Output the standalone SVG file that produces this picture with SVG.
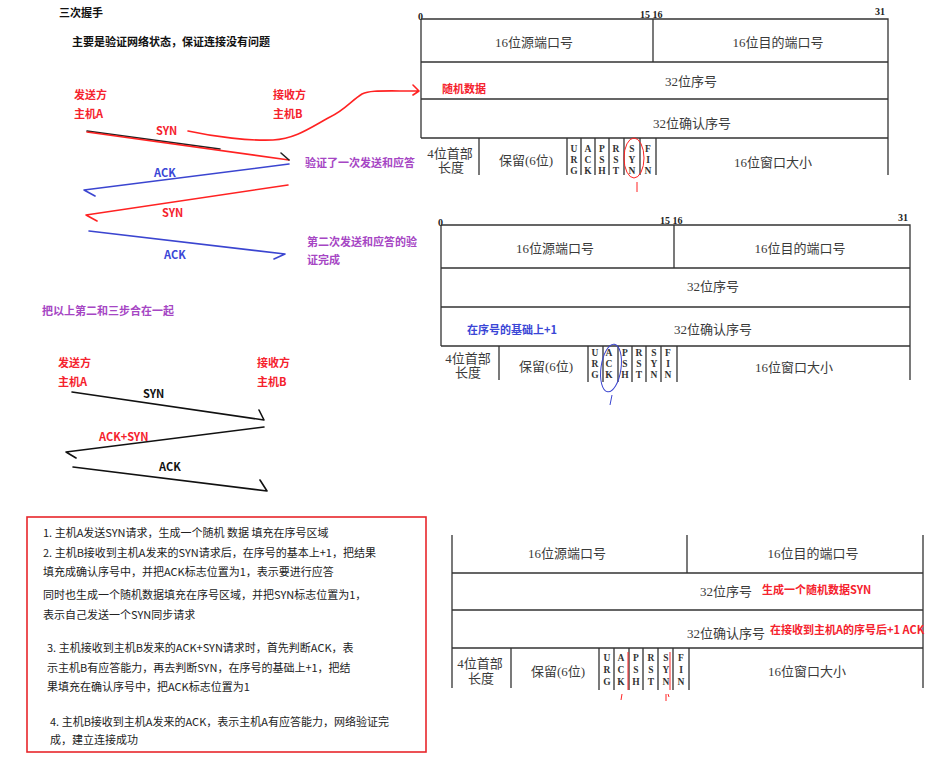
<svg xmlns="http://www.w3.org/2000/svg" width="945" height="757" viewBox="0 0 945 757">
<style>
.b{font-family:"Noto Sans CJK SC","Liberation Sans",sans-serif;font-size:11px;font-weight:bold}
.r{fill:#f5222d}.bl{fill:#3a46d6}.pu{fill:#a646c4}.k{fill:#111}
.p{font-family:"Noto Sans CJK SC","Liberation Sans",sans-serif;font-size:11px;fill:#222}
.t{font-family:"Liberation Serif","Noto Sans CJK SC",serif;font-size:13px;fill:#3a3a3a;text-anchor:middle}
.f{font-family:"Liberation Serif",serif;font-size:9.5px;fill:#333;text-anchor:middle;font-weight:bold}
.n{font-family:"Liberation Serif",serif;font-size:10px;fill:#222;font-weight:bold}
.tl{fill:none;stroke:#333;stroke-width:1.3}
.ln{fill:none;stroke-width:1.6;stroke-linecap:round;stroke-linejoin:round}
</style>
<rect width="945" height="757" fill="#fff"/>

<g id="title">
<text class="b k" x="59" y="17">三次握手</text>
<text class="b k" x="72" y="46">主要是验证网络状态，保证连接没有问题</text>
</g>

<g id="diagram1-labels">
<text class="b r" x="74" y="99">发送方</text>
<text class="b r" x="74" y="118">主机A</text>
<text class="b r" x="273" y="99">接收方</text>
<text class="b r" x="273" y="118">主机B</text>
<text class="b r" x="156" y="135">SYN</text>
<text class="b bl" x="154" y="177">ACK</text>
<text class="b r" x="162" y="217">SYN</text>
<text class="b bl" x="164" y="259">ACK</text>
<text class="b pu" x="305" y="167">验证了一次发送和应答</text>
<text class="b pu" x="307" y="246">第二次发送和应答的验</text>
<text class="b pu" x="307" y="264">证完成</text>
</g>

<g id="diagram2-labels">
<text class="b pu" x="42" y="315">把以上第二和三步合在一起</text>
<text class="b r" x="58" y="367">发送方</text>
<text class="b r" x="58" y="386">主机A</text>
<text class="b r" x="257" y="367">接收方</text>
<text class="b r" x="257" y="386">主机B</text>
<text class="b k" x="143" y="398">SYN</text>
<text class="b r" x="99" y="441">ACK+SYN</text>
<text class="b k" x="159" y="471">ACK</text>
</g>

<g id="connectors">
<path class="ln" stroke="#222" stroke-width="1.2" d="M87,131 L220,149"/>
<path class="ln" stroke="#f22" d="M87,132 L289,160"/>
<path class="ln" stroke="#222" d="M281,153 L289,160"/>
<path class="ln" stroke="#3b45d0" d="M289,164 L84,190 L95,196"/>
<path class="ln" stroke="#f22" d="M288,185 L86,215 L97,221"/>
<path class="ln" stroke="#3b45d0" d="M89,231 L285,254 L274,259"/>
<path class="ln" stroke="#f22" stroke-width="1" d="M188,131 C215,137 250,141 273,140 C295,139 310,128 330,117 C345,110 352,100 362,94 C370,90 380,91 419,91 M413,85 L419,91 L413,95"/>
<path class="ln" stroke="#111" d="M72,392 L264,420 M259,410 L264,420"/>
<path class="ln" stroke="#111" d="M264,427 L66,452 L76,458"/>
<path class="ln" stroke="#111" d="M73,467 L267,491 M260,480 L267,491"/>
</g>

<g id="table1">
<text class="n" x="418" y="20">0</text>
<text class="n" x="640" y="18">15 16</text>
<text class="n" x="875" y="15">31</text>
<path class="tl" d="M421,19 H888 V175 M421,19 V138 M421,62 H888 M421,99 H888 M421,138 H888 M653,19 V62 M479,138 V175 M567,138 V175 M581,138 V175 M595,138 V175 M609,138 V175 M624,138 V175 M640,138 V175 M656,138 V175"/>
<text class="t" x="534" y="47">16位源端口号</text>
<text class="t" x="778" y="47">16位目的端口号</text>
<text class="t" x="691" y="86">32位序号</text>
<text class="t" x="692" y="128">32位确认序号</text>
<text class="t" x="450" y="158">4位首部</text>
<text class="t" x="451" y="172">长度</text>
<text class="t" x="526" y="165">保留(6位)</text>
<text class="t" x="773" y="167">16位窗口大小</text>
<g class="f">
<text x="574" y="152">U</text><text x="574" y="163">R</text><text x="574" y="174">G</text>
<text x="588" y="152">A</text><text x="588" y="163">C</text><text x="588" y="174">K</text>
<text x="602" y="152">P</text><text x="602" y="163">S</text><text x="602" y="174">H</text>
<text x="616" y="152">R</text><text x="616" y="163">S</text><text x="616" y="174">T</text>
<text x="632" y="152">S</text><text x="632" y="163">Y</text><text x="632" y="174">N</text>
<text x="648" y="152">F</text><text x="648" y="163">I</text><text x="648" y="174">N</text>
</g>
<text class="b r" x="442" y="93">随机数据</text>
<ellipse cx="634" cy="158" rx="10" ry="20" fill="none" stroke="#f22" stroke-width="1"/>
<path d="M637,182 L637,192" stroke="#f22" stroke-width="1"/>
</g>

<g id="table2">
<text class="n" x="438" y="226">0</text>
<text class="n" x="660" y="224">15 16</text>
<text class="n" x="898" y="221">31</text>
<path class="tl" d="M441,225 H910 V380 M441,225 V346 M441,268 H910 M441,307 H910 M441,346 H910 M674,225 V268 M499,346 V380 M588,346 V382 M603,346 V382 M618,346 V382 M632,346 V382 M646,346 V382 M661,346 V382 M677,346 V382"/>
<text class="t" x="555" y="253">16位源端口号</text>
<text class="t" x="800" y="253">16位目的端口号</text>
<text class="t" x="713" y="291">32位序号</text>
<text class="t" x="713" y="334">32位确认序号</text>
<text class="t" x="468" y="363">4位首部</text>
<text class="t" x="468" y="377">长度</text>
<text class="t" x="546" y="371">保留(6位)</text>
<text class="t" x="794" y="372">16位窗口大小</text>
<g class="f">
<text x="595" y="356">U</text><text x="595" y="367">R</text><text x="595" y="378">G</text>
<text x="609" y="356">A</text><text x="609" y="367">C</text><text x="609" y="378">K</text>
<text x="625" y="356">P</text><text x="625" y="367">S</text><text x="625" y="378">H</text>
<text x="639" y="356">R</text><text x="639" y="367">S</text><text x="639" y="378">T</text>
<text x="654" y="356">S</text><text x="654" y="367">Y</text><text x="654" y="378">N</text>
<text x="668" y="356">F</text><text x="668" y="367">I</text><text x="668" y="378">N</text>
</g>
<text class="b bl" x="467" y="334">在序号的基础上+1</text>
<ellipse cx="611" cy="368" rx="10" ry="24" fill="none" stroke="#3b45d0" stroke-width="1" transform="rotate(8 611 368)"/>
<path d="M612,395 L610,405" stroke="#3b45d0" stroke-width="1"/>
</g>

<g id="table3">
<path class="tl" d="M452,535 V688 M923,535 V688 M452,573 H923 M452,610 H923 M452,648 H923 M687,535 V573 M511,648 V688 M599,648 V690 M614,648 V690 M629,648 V690 M643,648 V690 M658,648 V690 M673,648 V690 M689,648 V690"/>
<text class="t" x="567" y="558">16位源端口号</text>
<text class="t" x="813" y="558">16位目的端口号</text>
<text class="t" x="726" y="596">32位序号</text>
<text class="t" x="726" y="638">32位确认序号</text>
<text class="t" x="480" y="668">4位首部</text>
<text class="t" x="481" y="683">长度</text>
<text class="t" x="558" y="676">保留(6位)</text>
<text class="t" x="807" y="676">16位窗口大小</text>
<g class="f">
<text x="607" y="661">U</text><text x="607" y="673">R</text><text x="607" y="685">G</text>
<text x="621" y="661">A</text><text x="621" y="673">C</text><text x="621" y="685">K</text>
<text x="636" y="661">P</text><text x="636" y="673">S</text><text x="636" y="685">H</text>
<text x="651" y="661">R</text><text x="651" y="673">S</text><text x="651" y="685">T</text>
<text x="666" y="661">S</text><text x="666" y="673">Y</text><text x="666" y="685">N</text>
<text x="681" y="661">F</text><text x="681" y="673">I</text><text x="681" y="685">N</text>
</g>
<path d="M628,652 V690 M670,652 V690 M622,694 L621,700 M666,694 V701 M668,694 L669,697" stroke="#f22" stroke-width="1" fill="none"/>
<text class="b r" x="762" y="594">生成一个随机数据SYN</text>
<text class="b r" x="770" y="634">在接收到主机A的序号后+1 ACK</text>
</g>

<g id="steps">
<rect x="27" y="517" width="399" height="235" fill="none" stroke="#e8262b" stroke-width="1.6"/>
<text class="p" x="43" y="537">1.  主机A发送SYN请求，生成一个随机 数据 填充在序号区域</text>
<text class="p" x="43" y="557">2. 主机B接收到主机A发来的SYN请求后，在序号的基本上+1，把结果</text>
<text class="p" x="43" y="576">填充成确认序号中，并把ACK标志位置为1，表示要进行应答</text>
<text class="p" x="43" y="599">同时也生成一个随机数据填充在序号区域，并把SYN标志位置为1，</text>
<text class="p" x="43" y="619">表示自己发送一个SYN同步请求</text>
<text class="p" x="47" y="652">3. 主机接收到主机B发来的ACK+SYN请求时，首先判断ACK，表</text>
<text class="p" x="47" y="672">示主机B有应答能力，再去判断SYN，在序号的基础上+1，把结</text>
<text class="p" x="47" y="691">果填充在确认序号中，把ACK标志位置为1</text>
<text class="p" x="50" y="726">4. 主机B接收到主机A发来的ACK，表示主机A有应答能力，网络验证完</text>
<text class="p" x="50" y="744">成，建立连接成功</text>
</g>
</svg>
